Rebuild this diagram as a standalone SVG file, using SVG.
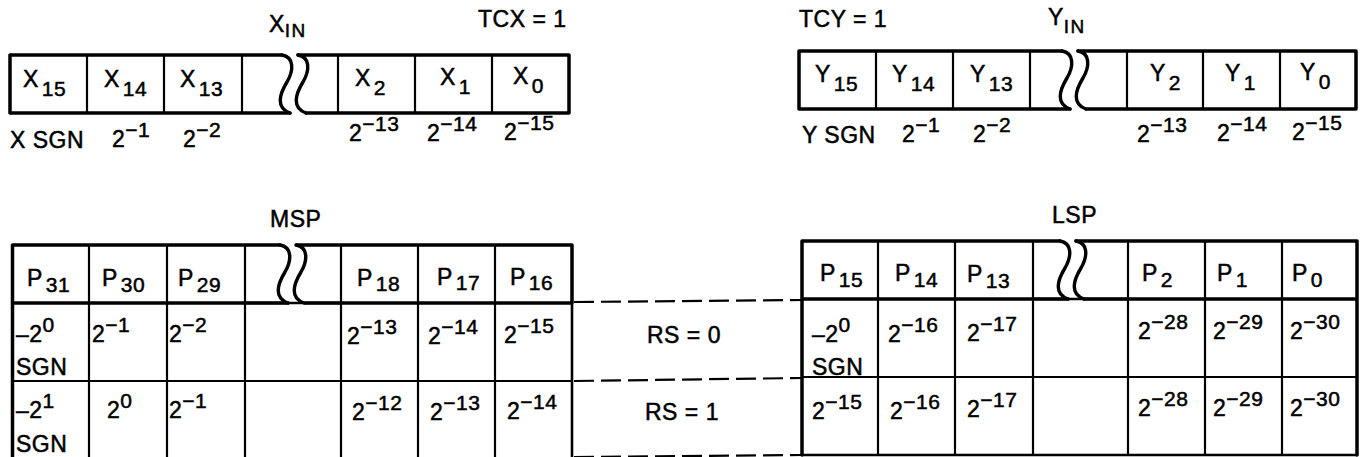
<svg xmlns="http://www.w3.org/2000/svg" xmlns:xlink="http://www.w3.org/1999/xlink" width="1365" height="457" viewBox="0 0 1365 457">
<style>
text{font-family:"Liberation Sans",Arial,sans-serif;font-size:23px;fill:#000;stroke:#000;stroke-width:0.5;letter-spacing:0.5px}
.s{font-size:21px}
.sm{font-size:19px;letter-spacing:1.5px}
.k{fill:none;stroke:#000;stroke-width:3.5;stroke-linejoin:round;stroke-linecap:round}
.n{fill:none;stroke:#000;stroke-width:2.2}
.b{fill:none;stroke:#000;stroke-width:3.4;stroke-linecap:round}
.d{fill:none;stroke:#000;stroke-width:2.2;stroke-dasharray:20 7}
</style>
<defs>
<path id="brk" class="b" d="M0 0 C12 2 12 15 5 27 C-3 40 -6 53 8 58 M16 0 C28 2 28 15 21 27 C13 40 10 53 24 58"/>
</defs>
<rect width="1365" height="457" fill="#fff"/>

<g id="xin">
<path class="k" d="M282 55 H10 V113 H290 M298 55 H569 V113 H306"/>
<use xlink:href="#brk" href="#brk" x="282" y="55"/>
<path class="n" d="M87 55 V113 M164 55 V113 M242 55 V113 M338 55 V113 M415 55 V113 M492 55 V113"/>
<text x="23" y="87">X<tspan class="s" dx="3" dy="9">15</tspan></text>
<text x="104" y="87">X<tspan class="s" dx="3" dy="9">14</tspan></text>
<text x="180" y="87">X<tspan class="s" dx="3" dy="9">13</tspan></text>
<text x="355" y="86">X<tspan class="s" dx="3" dy="9">2</tspan></text>
<text x="440" y="85">X<tspan class="s" dx="3" dy="9">1</tspan></text>
<text x="513" y="84">X<tspan class="s" dx="3" dy="9">0</tspan></text>
</g>

<g id="yin">
<path class="k" d="M1062 51 H799 V109 H1070 M1078 51 H1356 V109 H1086"/>
<use xlink:href="#brk" href="#brk" x="1062" y="51"/>
<path class="n" d="M876 51 V109 M953 51 V109 M1030 51 V109 M1127 51 V109 M1203 51 V109 M1280 51 V109"/>
<text x="815" y="82">Y<tspan class="s" dx="3" dy="9">15</tspan></text>
<text x="892" y="82">Y<tspan class="s" dx="3" dy="9">14</tspan></text>
<text x="970" y="82">Y<tspan class="s" dx="3" dy="9">13</tspan></text>
<text x="1150" y="81">Y<tspan class="s" dx="3" dy="9">2</tspan></text>
<text x="1225" y="81">Y<tspan class="s" dx="3" dy="9">1</tspan></text>
<text x="1300" y="80">Y<tspan class="s" dx="3" dy="9">0</tspan></text>
</g>

<g id="top-labels">
<text x="269" y="32">X<tspan class="sm" dy="5">IN</tspan></text>
<text x="478" y="27">TCX = 1</text>
<text x="799" y="27">TCY = 1</text>
<text x="1048" y="25">Y<tspan class="sm" dy="8">IN</tspan></text>
<text x="10" y="148">X SGN</text>
<text x="112" y="147">2<tspan class="s" dy="-10">−1</tspan></text>
<text x="183" y="147">2<tspan class="s" dy="-10">−2</tspan></text>
<text x="349" y="141">2<tspan class="s" dy="-10">−13</tspan></text>
<text x="427" y="141">2<tspan class="s" dy="-10">−14</tspan></text>
<text x="504" y="140">2<tspan class="s" dy="-10">−15</tspan></text>
<text x="802" y="143">Y SGN</text>
<text x="902" y="142">2<tspan class="s" dy="-10">−1</tspan></text>
<text x="973" y="142">2<tspan class="s" dy="-10">−2</tspan></text>
<text x="1137" y="142">2<tspan class="s" dy="-10">−13</tspan></text>
<text x="1217" y="141">2<tspan class="s" dy="-10">−14</tspan></text>
<text x="1292" y="140">2<tspan class="s" dy="-10">−15</tspan></text>
<text x="270" y="227">MSP</text>
<text x="1052" y="223">LSP</text>
</g>

<g id="msp">
<path class="k" d="M280 245 H12.5 V303 H288 M297 245 H572 V303 H305 M12.5 303 V460"/>
<use xlink:href="#brk" href="#brk" x="280" y="245"/>
<path class="n" d="M89 245 V460 M167 245 V460 M245 245 V460 M341 245 V460 M418 245 V460 M495 245 V460 M12.5 381 H572"/>
<path class="n" style="stroke-width:2.6" d="M572 303 V460 M245 303 H341"/>
<text x="27" y="286">P<tspan class="s" dx="3" dy="6">31</tspan></text>
<text x="102" y="286">P<tspan class="s" dx="3" dy="6">30</tspan></text>
<text x="178" y="286">P<tspan class="s" dx="3" dy="6">29</tspan></text>
<text x="357" y="286">P<tspan class="s" dx="3" dy="5">18</tspan></text>
<text x="437" y="285">P<tspan class="s" dx="3" dy="5">17</tspan></text>
<text x="510" y="285">P<tspan class="s" dx="3" dy="5">16</tspan></text>
<text x="16" y="342">–2<tspan class="s" dy="-10">0</tspan></text>
<text x="16" y="375">SGN</text>
<text x="92" y="342">2<tspan class="s" dy="-10">−1</tspan></text>
<text x="169" y="342">2<tspan class="s" dy="-10">−2</tspan></text>
<text x="347" y="344">2<tspan class="s" dy="-10">−13</tspan></text>
<text x="428" y="344">2<tspan class="s" dy="-10">−14</tspan></text>
<text x="504" y="343">2<tspan class="s" dy="-10">−15</tspan></text>
<text x="16" y="418">–2<tspan class="s" dy="-10">1</tspan></text>
<text x="16" y="452">SGN</text>
<text x="107" y="418">2<tspan class="s" dy="-10">0</tspan></text>
<text x="169" y="418">2<tspan class="s" dy="-10">−1</tspan></text>
<text x="352" y="420">2<tspan class="s" dy="-10">−12</tspan></text>
<text x="430" y="420">2<tspan class="s" dy="-10">−13</tspan></text>
<text x="507" y="419">2<tspan class="s" dy="-10">−14</tspan></text>
</g>

<g id="lsp">
<path class="k" d="M1060 241 H802 V299 H1068 M1076 241 H1357 V455 M1357 299 H1084 M802 299 V455"/>
<use xlink:href="#brk" href="#brk" x="1060" y="241"/>
<path class="n" d="M878 241 V455 M955 241 V455 M1033 241 V455 M1128 241 V455 M1205 241 V455 M1282 241 V455 M802 377 H1357"/>
<path class="n" style="stroke-width:2.6" d="M802 455 H1357 M1033 299 H1128"/>
<text x="820" y="281">P<tspan class="s" dx="3" dy="6">15</tspan></text>
<text x="895" y="281">P<tspan class="s" dx="3" dy="6">14</tspan></text>
<text x="967" y="282">P<tspan class="s" dx="3" dy="6">13</tspan></text>
<text x="1142" y="281">P<tspan class="s" dx="3" dy="6">2</tspan></text>
<text x="1217" y="281">P<tspan class="s" dx="3" dy="6">1</tspan></text>
<text x="1292" y="281">P<tspan class="s" dx="3" dy="6">0</tspan></text>
<text x="812" y="342">–2<tspan class="s" dy="-10">0</tspan></text>
<text x="812" y="375">SGN</text>
<text x="888" y="342">2<tspan class="s" dy="-10">−16</tspan></text>
<text x="967" y="341">2<tspan class="s" dy="-10">−17</tspan></text>
<text x="1138" y="339">2<tspan class="s" dy="-10">−28</tspan></text>
<text x="1213" y="339">2<tspan class="s" dy="-10">−29</tspan></text>
<text x="1290" y="339">2<tspan class="s" dy="-10">−30</tspan></text>
<text x="812" y="419">2<tspan class="s" dy="-10">−15</tspan></text>
<text x="890" y="419">2<tspan class="s" dy="-10">−16</tspan></text>
<text x="967" y="417">2<tspan class="s" dy="-10">−17</tspan></text>
<text x="1138" y="416">2<tspan class="s" dy="-10">−28</tspan></text>
<text x="1213" y="416">2<tspan class="s" dy="-10">−29</tspan></text>
<text x="1290" y="416">2<tspan class="s" dy="-10">−30</tspan></text>
</g>

<g id="rs-labels">
<text x="647" y="343">RS = 0</text>
<text x="645" y="420">RS = 1</text>
</g>

<g id="connectors">
<path class="d" d="M574 302 L802 300"/>
<path class="d" d="M574 381 L802 378"/>
<path class="d" d="M574 457 L802 455"/>
</g>
</svg>
